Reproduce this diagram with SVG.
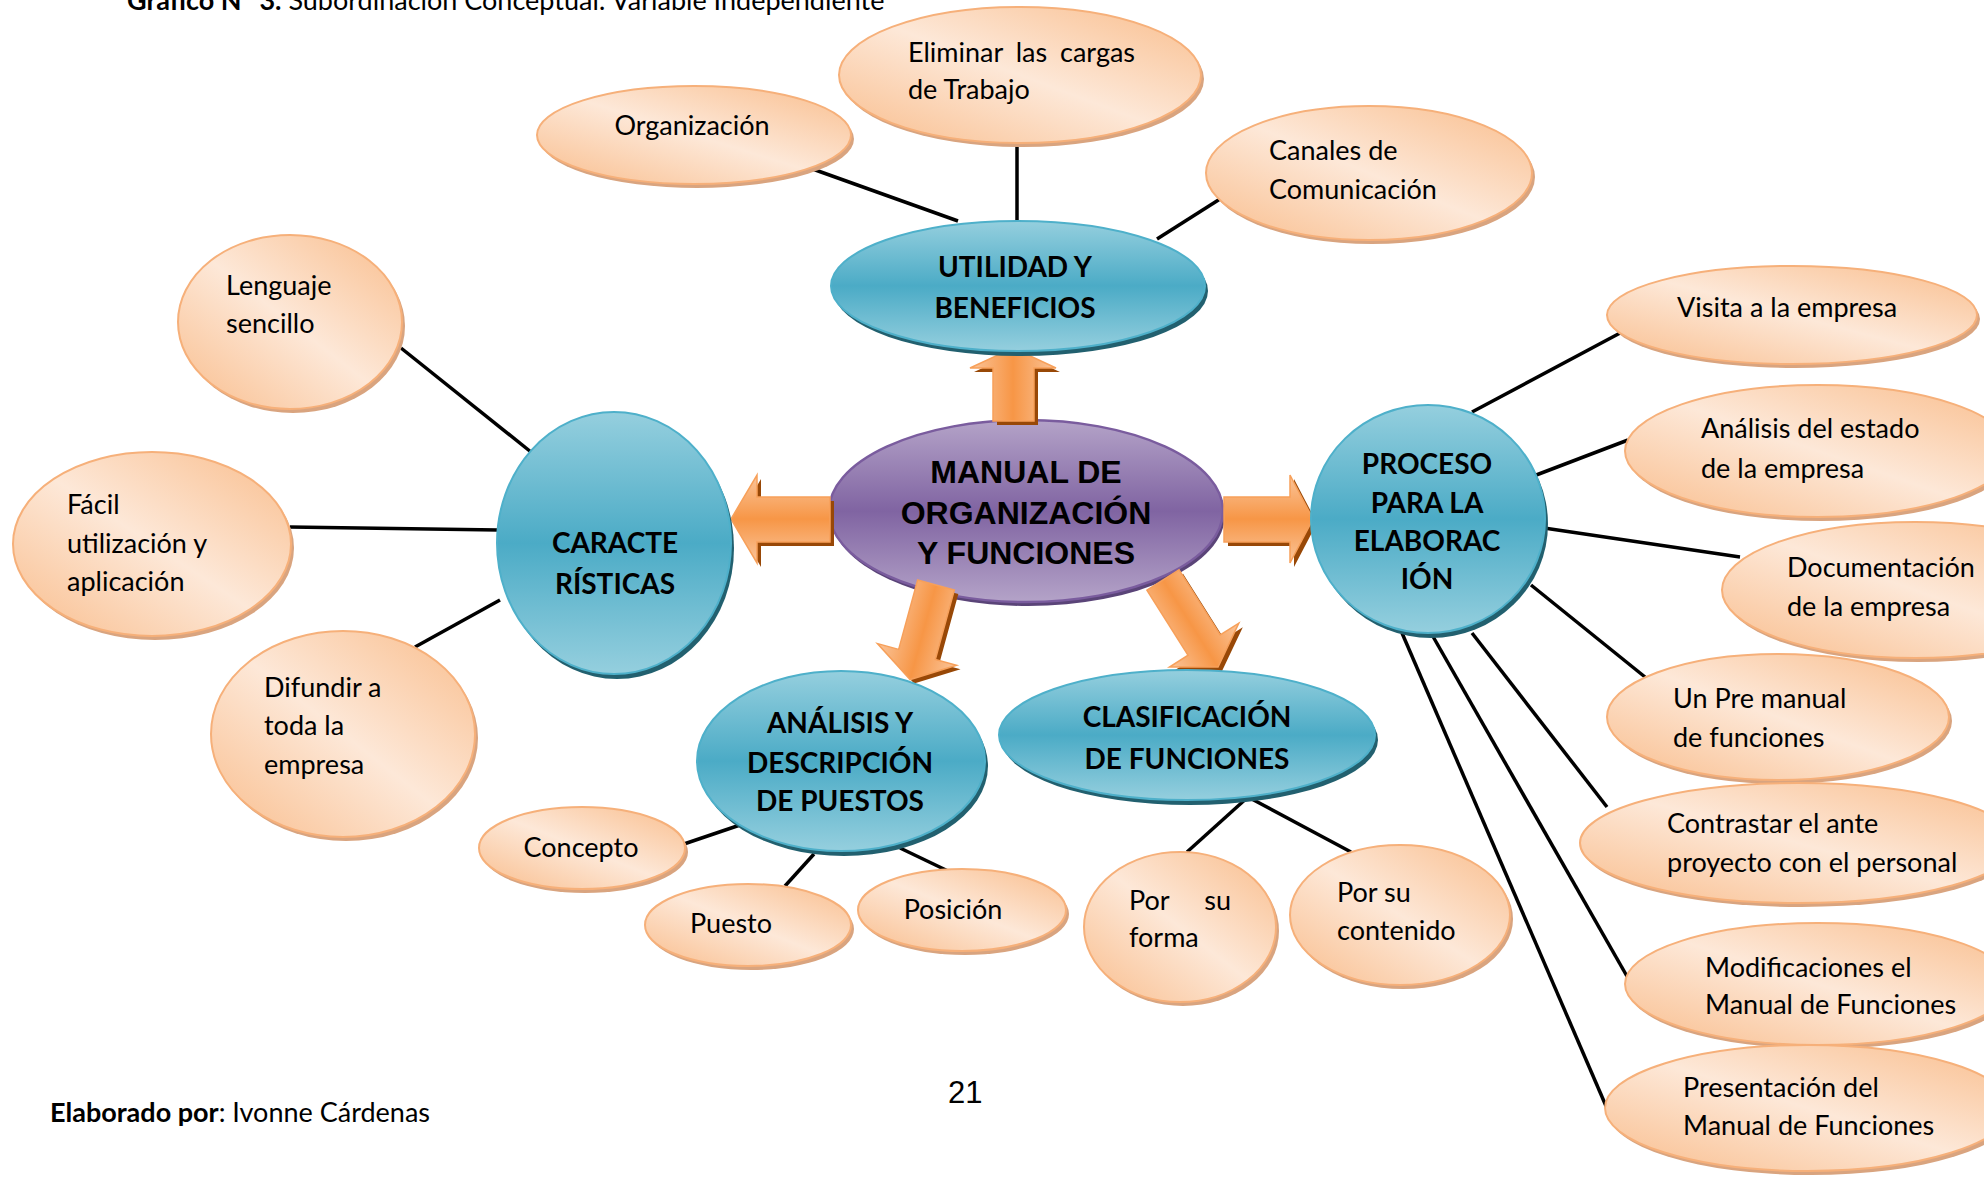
<svg xmlns="http://www.w3.org/2000/svg" width="1984" height="1177" viewBox="0 0 1984 1177">
  <defs>
    <linearGradient id="gOr" x1="1" y1="0" x2="0" y2="1">
      <stop offset="0" stop-color="#f9bd8c"/>
      <stop offset="0.5" stop-color="#fde8d8"/>
      <stop offset="1" stop-color="#f9bd8c"/>
    </linearGradient>
    <linearGradient id="gBl" x1="0" y1="0" x2="0" y2="1">
      <stop offset="0" stop-color="#95cfde"/>
      <stop offset="0.5" stop-color="#4babc6"/>
      <stop offset="1" stop-color="#95cfde"/>
    </linearGradient>
    <linearGradient id="gPu" x1="0" y1="0" x2="0" y2="1">
      <stop offset="0" stop-color="#b4a3c8"/>
      <stop offset="0.5" stop-color="#8064a2"/>
      <stop offset="1" stop-color="#b4a3c8"/>
    </linearGradient>
    <linearGradient id="gAr" x1="0" y1="0" x2="0" y2="1">
      <stop offset="0" stop-color="#fac59b"/>
      <stop offset="0.5" stop-color="#f79646"/>
      <stop offset="1" stop-color="#fac59b"/>
    </linearGradient>
    <linearGradient id="gArH" x1="0" y1="0" x2="1" y2="0">
      <stop offset="0" stop-color="#fac59b"/>
      <stop offset="0.5" stop-color="#f79646"/>
      <stop offset="1" stop-color="#fac59b"/>
    </linearGradient>
  </defs>
  <style>
    .or { fill: url(#gOr); stroke: #f6b07a; stroke-width: 2; }
    .orS { fill: #d9a47f; }
    .bl { fill: url(#gBl); stroke: #4eb0ca; stroke-width: 2; }
    .blS { fill: #22606f; }
    .pu { fill: url(#gPu); stroke: #7a5c9e; stroke-width: 2.5; }
    .puS { fill: #5a4478; }
    .t { font-family: Lato, sans-serif; font-size: 27px; fill: #000; }
    .b { font-family: Lato, sans-serif; font-size: 28px; font-weight: bold; fill: #000; text-anchor: middle; }
    .m { text-anchor: middle; }
    .c { font-family: "Liberation Sans", Arial, sans-serif; font-size: 32px; font-weight: bold; fill: #000; text-anchor: middle; }
    .ln { stroke: #000; stroke-width: 3.5; fill: none; }
    .ar { fill: url(#gAr); stroke: #f7a05a; stroke-width: 1.5; }
    .arH { fill: url(#gArH); stroke: #f7a05a; stroke-width: 1.5; }
    .arS { fill: #984807; }
  </style>

  <rect width="1984" height="1177" fill="#fff"/>

  <!-- caption at the top of the page -->
  <text x="127" y="10" class="t" font-size="27"><tspan font-weight="bold">Gráfico N° 3.</tspan> Subordinación Conceptual: Variable  Independiente</text>

  <!-- connector lines -->
  <g id="connectors">
    <line class="ln" x1="807" y1="167" x2="958" y2="221"/>
    <line class="ln" x1="1017" y1="143" x2="1017" y2="221"/>
    <line class="ln" x1="1220" y1="199" x2="1157" y2="239"/>
    <line class="ln" x1="401" y1="348" x2="531" y2="452"/>
    <line class="ln" x1="290" y1="527" x2="498" y2="530"/>
    <line class="ln" x1="415" y1="647" x2="500" y2="600"/>
    <line class="ln" x1="681" y1="845" x2="743" y2="824"/>
    <line class="ln" x1="785" y1="886" x2="814" y2="854"/>
    <line class="ln" x1="900" y1="848" x2="948" y2="871"/>
    <line class="ln" x1="1187" y1="852" x2="1248" y2="797"/>
    <line class="ln" x1="1248" y1="797" x2="1351" y2="852"/>
    <line class="ln" x1="1472" y1="412" x2="1622" y2="332"/>
    <line class="ln" x1="1531" y1="477" x2="1628" y2="440"/>
    <line class="ln" x1="1544" y1="528" x2="1740" y2="557"/>
    <line class="ln" x1="1531" y1="585" x2="1645" y2="677"/>
    <line class="ln" x1="1472" y1="633" x2="1607" y2="807"/>
    <line class="ln" x1="1431" y1="633" x2="1628" y2="978"/>
    <line class="ln" x1="1402" y1="633" x2="1609" y2="1113"/>
  </g>

  <!-- central node -->
  <g id="n-manual">
    <ellipse class="puS" cx="1028" cy="515" rx="197" ry="91"/>
    <ellipse class="pu" cx="1026" cy="511" rx="197" ry="91"/>
    <text class="c" x="1026" y="483">MANUAL DE</text>
    <text class="c" x="1026" y="524">ORGANIZACIÓN</text>
    <text class="c" x="1026" y="564">Y FUNCIONES</text>
  </g>

  <!-- block arrows leaving the central node -->
  <g id="arrows">
    <g transform="translate(4,4)" class="arS">
      <polygon points="993,421 1034,421 1034,368 1056,368 1013,348 970,368 993,368"/>
      <polygon points="830,497 757,497 757,475 731,519 757,563 757,542 830,542"/>
      <polygon points="1224,497 1290,497 1290,475 1313,519 1290,563 1290,542 1224,542"/>
      <path transform="translate(936,585) rotate(15.3)" d="M-19,0 L19,0 L19,72 L41,72 L0,98 L-41,72 L-19,72 Z"/>
      <path transform="translate(1163,580) rotate(-32.3)" d="M-19,0 L19,0 L19,77 L41,77 L0,103 L-41,77 L-19,77 Z"/>
    </g>
    <polygon class="arH" points="993,421 1034,421 1034,368 1056,368 1013,348 970,368 993,368"/>
    <polygon class="ar" points="830,497 757,497 757,475 731,519 757,563 757,542 830,542"/>
    <polygon class="ar" points="1224,497 1290,497 1290,475 1313,519 1290,563 1290,542 1224,542"/>
    <path class="arH" transform="translate(936,585) rotate(15.3)" d="M-19,0 L19,0 L19,72 L41,72 L0,98 L-41,72 L-19,72 Z"/>
    <path class="arH" transform="translate(1163,580) rotate(-32.3)" d="M-19,0 L19,0 L19,77 L41,77 L0,103 L-41,77 L-19,77 Z"/>
  </g>

  <!-- second-level nodes -->
  <g id="n-utilidad">
    <ellipse class="blS" cx="1021" cy="291" rx="187" ry="65"/>
    <ellipse class="bl" cx="1018" cy="286" rx="187" ry="65"/>
    <text class="b" x="1015" y="277">UTILIDAD Y</text>
    <text class="b" x="1015" y="318">BENEFICIOS</text>
  </g>
  <g id="n-caracteristicas">
    <ellipse class="blS" cx="617" cy="548" rx="117" ry="131"/>
    <ellipse class="bl" cx="614" cy="543" rx="117" ry="131"/>
    <text class="b" x="615" y="553">CARACTE</text>
    <text class="b" x="615" y="594">RÍSTICAS</text>
  </g>
  <g id="n-proceso">
    <ellipse class="blS" cx="1431" cy="524" rx="117" ry="114"/>
    <ellipse class="bl" cx="1428" cy="519" rx="117" ry="114"/>
    <text class="b" x="1427" y="474" font-size="26">PROCESO</text>
    <text class="b" x="1427" y="513" font-size="26">PARA LA</text>
    <text class="b" x="1427" y="551" font-size="26">ELABORAC</text>
    <text class="b" x="1427" y="589" font-size="26">IÓN</text>
  </g>
  <g id="n-analisis">
    <ellipse class="blS" cx="844" cy="766" rx="144" ry="90"/>
    <ellipse class="bl" cx="841" cy="761" rx="144" ry="90"/>
    <text class="b" x="840" y="733" font-size="26">ANÁLISIS Y</text>
    <text class="b" x="840" y="773" font-size="26">DESCRIPCIÓN</text>
    <text class="b" x="840" y="811" font-size="26">DE PUESTOS</text>
  </g>
  <g id="n-clasificacion">
    <ellipse class="blS" cx="1190" cy="740" rx="188" ry="65"/>
    <ellipse class="bl" cx="1187" cy="735" rx="188" ry="65"/>
    <text class="b" x="1187" y="727">CLASIFICACIÓN</text>
    <text class="b" x="1187" y="769">DE FUNCIONES</text>
  </g>

  <!-- leaf nodes: utilidad y beneficios -->
  <g id="n-organizacion">
    <ellipse class="orS" cx="697" cy="139" rx="157" ry="49"/>
    <ellipse class="or" cx="694" cy="135" rx="157" ry="49"/>
    <text class="t m" x="692" y="135">Organización</text>
  </g>
  <g id="n-eliminar">
    <ellipse class="orS" cx="1023" cy="79" rx="181" ry="68"/>
    <ellipse class="or" cx="1020" cy="75" rx="181" ry="68"/>
    <text class="t" x="908" y="62" word-spacing="6">Eliminar las cargas</text>
    <text class="t" x="908" y="99">de Trabajo</text>
  </g>
  <g id="n-canales">
    <ellipse class="orS" cx="1372" cy="177" rx="163" ry="67"/>
    <ellipse class="or" cx="1369" cy="173" rx="163" ry="67"/>
    <text class="t" x="1269" y="160">Canales de</text>
    <text class="t" x="1269" y="199">Comunicación</text>
  </g>

  <!-- leaf nodes: características -->
  <g id="n-lenguaje">
    <ellipse class="orS" cx="293" cy="326" rx="112" ry="87"/>
    <ellipse class="or" cx="290" cy="322" rx="112" ry="87"/>
    <text class="t" x="226" y="295">Lenguaje</text>
    <text class="t" x="226" y="333">sencillo</text>
  </g>
  <g id="n-facil">
    <ellipse class="orS" cx="155" cy="548" rx="139" ry="92"/>
    <ellipse class="or" cx="152" cy="544" rx="139" ry="92"/>
    <text class="t" x="67" y="514">Fácil</text>
    <text class="t" x="67" y="553">utilización y</text>
    <text class="t" x="67" y="591">aplicación</text>
  </g>
  <g id="n-difundir">
    <ellipse class="orS" cx="346" cy="738" rx="132" ry="103"/>
    <ellipse class="or" cx="343" cy="734" rx="132" ry="103"/>
    <text class="t" x="264" y="697">Difundir a</text>
    <text class="t" x="264" y="735">toda la</text>
    <text class="t" x="264" y="774">empresa</text>
  </g>

  <!-- leaf nodes: análisis y descripción de puestos -->
  <g id="n-concepto">
    <ellipse class="orS" cx="585" cy="852" rx="103" ry="41"/>
    <ellipse class="or" cx="582" cy="848" rx="103" ry="41"/>
    <text class="t m" x="581" y="857">Concepto</text>
  </g>
  <g id="n-puesto">
    <ellipse class="orS" cx="751" cy="929" rx="103" ry="41"/>
    <ellipse class="or" cx="748" cy="925" rx="103" ry="41"/>
    <text class="t m" x="731" y="933">Puesto</text>
  </g>
  <g id="n-posicion">
    <ellipse class="orS" cx="965" cy="914" rx="104" ry="41"/>
    <ellipse class="or" cx="962" cy="910" rx="104" ry="41"/>
    <text class="t m" x="953" y="919">Posición</text>
  </g>

  <!-- leaf nodes: clasificación de funciones -->
  <g id="n-forma">
    <ellipse class="orS" cx="1183" cy="931" rx="96" ry="75"/>
    <ellipse class="or" cx="1180" cy="927" rx="96" ry="75"/>
    <text class="t" x="1129" y="910">Por</text>
    <text class="t" x="1231" y="910" text-anchor="end">su</text>
    <text class="t" x="1129" y="947">forma</text>
  </g>
  <g id="n-contenido">
    <ellipse class="orS" cx="1403" cy="919" rx="110" ry="70"/>
    <ellipse class="or" cx="1400" cy="915" rx="110" ry="70"/>
    <text class="t" x="1337" y="902">Por su</text>
    <text class="t" x="1337" y="940">contenido</text>
  </g>

  <!-- leaf nodes: proceso para la elaboración -->
  <g id="n-visita">
    <ellipse class="orS" cx="1795" cy="319" rx="185" ry="49"/>
    <ellipse class="or" cx="1792" cy="315" rx="185" ry="49"/>
    <text class="t" x="1677" y="317">Visita a la empresa</text>
  </g>
  <g id="n-estado">
    <ellipse class="orS" cx="1821" cy="455" rx="193" ry="66"/>
    <ellipse class="or" cx="1818" cy="451" rx="193" ry="66"/>
    <text class="t" x="1701" y="438">Análisis del estado</text>
    <text class="t" x="1701" y="478">de la empresa</text>
  </g>
  <g id="n-documentacion">
    <ellipse class="orS" cx="1918" cy="594" rx="193" ry="68"/>
    <ellipse class="or" cx="1915" cy="590" rx="193" ry="68"/>
    <text class="t" x="1787" y="577">Documentación</text>
    <text class="t" x="1787" y="616">de la empresa</text>
  </g>
  <g id="n-premanual">
    <ellipse class="orS" cx="1781" cy="721" rx="171" ry="63"/>
    <ellipse class="or" cx="1778" cy="717" rx="171" ry="63"/>
    <text class="t" x="1673" y="708">Un Pre manual</text>
    <text class="t" x="1673" y="747">de funciones</text>
  </g>
  <g id="n-contrastar">
    <ellipse class="orS" cx="1801" cy="847" rx="218" ry="60"/>
    <ellipse class="or" cx="1798" cy="843" rx="218" ry="60"/>
    <text class="t" x="1667" y="833">Contrastar el ante</text>
    <text class="t" x="1667" y="872">proyecto con el personal</text>
  </g>
  <g id="n-modificaciones">
    <ellipse class="orS" cx="1821" cy="988" rx="193" ry="61"/>
    <ellipse class="or" cx="1818" cy="984" rx="193" ry="61"/>
    <text class="t" x="1705" y="977">Modificaciones el</text>
    <text class="t" x="1705" y="1014">Manual de Funciones</text>
  </g>
  <g id="n-presentacion">
    <ellipse class="orS" cx="1811" cy="1112" rx="203" ry="63"/>
    <ellipse class="or" cx="1808" cy="1108" rx="203" ry="63"/>
    <text class="t" x="1683" y="1097">Presentación del</text>
    <text class="t" x="1683" y="1135">Manual de Funciones</text>
  </g>

  <!-- footer -->
  <text x="948" y="1103" font-family="'Liberation Sans', Arial, sans-serif" font-size="31" fill="#000">21</text>
  <text x="50" y="1122" class="t" font-size="25"><tspan font-weight="bold">Elaborado por</tspan>: Ivonne Cárdenas</text>
</svg>
